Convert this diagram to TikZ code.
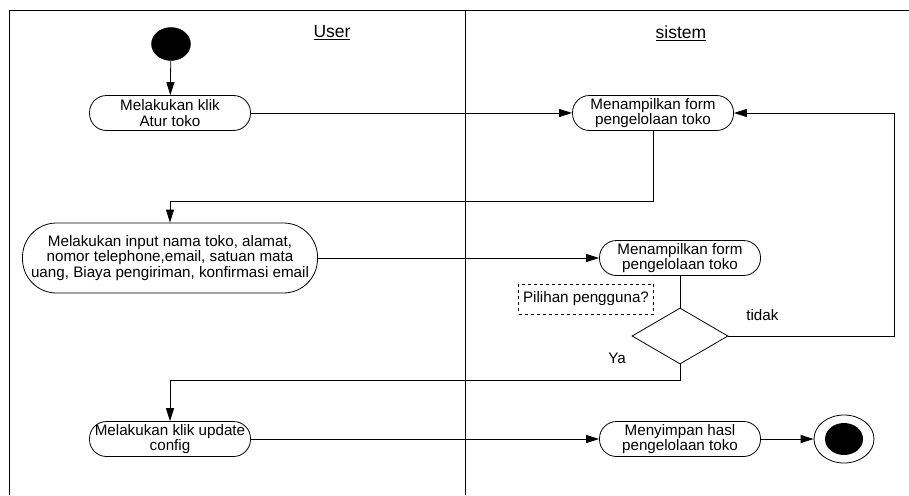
\documentclass[tikz,border=0pt]{standalone}
\usepackage{fontspec}
\setmainfont{Liberation Sans}
\usetikzlibrary{arrows.meta}
\usetikzlibrary{shapes}
\tikzset{>={Triangle[length=13pt,width=8pt]}}

\begin{document}
\begin{tikzpicture}[x=1pt, y=-1pt, font=\fontsize{15.2}{15.8}\selectfont]
            \tikzset{activity/.style={draw, line width=0.8pt, rectangle, rounded corners=17pt, minimum width=161pt, minimum height=35pt, inner sep=0pt, align=center}}
            \tikzset{flow/.style={->, line width=0.8pt}}
            \tikzset{lane/.style={line width=0.9pt}}
            \useasboundingbox (0,0) rectangle (909,495);
            % swimlanes
            \draw[lane] (909,10) -- (9,10) -- (9,495);
            \draw[lane] (465,10) -- (465,495);
            \node[font=\fontsize{17.5}{20}\selectfont] (user) at (332,33) {\underline{User}};
            \node[font=\fontsize{17.5}{20}\selectfont] (sistem) at (681,33) {\underline{sistem}};

            \node[draw, fill=black, ellipse, minimum width=39pt, minimum height=33pt, inner sep=0pt] (mulai) at (171,44) {};
            \node[activity] (klikatur) at (170,113) {Melakukan klik\\Atur toko};
            \node[activity] (tampil1) at (653,113) {Menampilkan form\\pengelolaan toko};
            \node[activity, minimum width=295pt, minimum height=70pt, rounded corners=34pt] (input) at (170,258) {Melakukan input nama toko, alamat,\\nomor telephone,email, satuan mata\\uang, Biaya pengiriman, konfirmasi email};
            \node[activity] (tampil2) at (680,258) {Menampilkan form\\pengelolaan toko};
            \node[draw, line width=0.8pt, diamond, shape aspect=1.75, minimum width=96pt, minimum height=56pt, inner sep=0pt] (pilih) at (680,336) {};
            \node[draw, dashed, line width=0.7pt, minimum width=135pt, minimum height=30pt, inner sep=0pt] (catatan) at (586,299) {Pilihan pengguna?};
            \node[activity] (klikupdate) at (170,439) {Melakukan klik update\\config};
            \node[activity] (simpan) at (680,439) {Menyimpan hasl\\pengelolaan toko};
            \node[draw, line width=0.8pt, ellipse, minimum width=60pt, minimum height=48pt, inner sep=0pt] (selesai) at (844,439) {};
            \node[fill=black, ellipse, minimum width=38pt, minimum height=32pt, inner sep=0pt] (selesaiisi) at (selesai) {};

            \draw[flow] (mulai) -- (klikatur);
            \draw[flow] (klikatur) -- (tampil1);
            \draw[flow] (tampil1.south) -- ++(0,70) -| (input.north);
            \draw[flow] (input) -- (tampil2);
            \draw[line width=0.8pt] (tampil2) -- (pilih);
            \draw[flow] (pilih.east) -- ++(166,0) node[pos=0, anchor=center, xshift=34pt, yshift=21pt] {tidak} |- (tampil1.east);
            \draw[flow] (pilih.south) -- ++(0,16) node[pos=0, anchor=center, xshift=-63pt, yshift=6pt] {Ya} -| (klikupdate.north);
            \draw[flow] (klikupdate) -- (simpan);
            \draw[flow] (simpan) -- (selesai);
        \end{tikzpicture}
\end{document}
